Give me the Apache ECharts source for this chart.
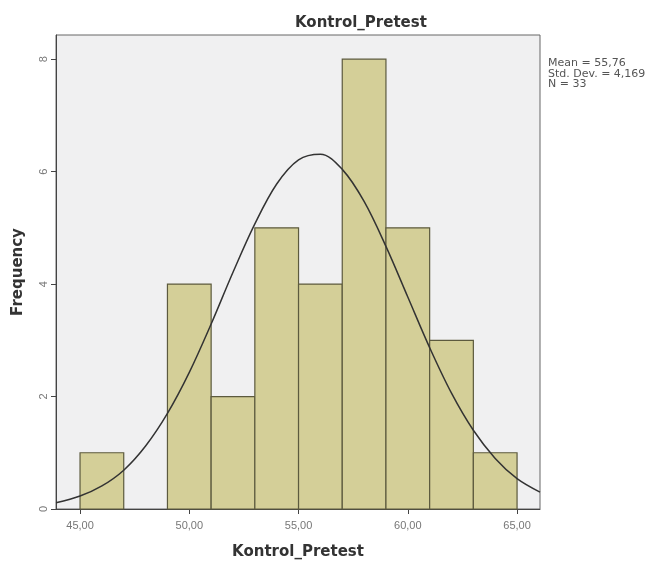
<!DOCTYPE html>
<html>
<head>
<meta charset="utf-8">
<script src="https://cdn.jsdelivr.net/npm/echarts@6/dist/echarts.min.js"></script>
<style>html,body{margin:0;padding:0;background:#fff}#c{width:648px;height:563px}</style>
</head>
<body>
<div id="c"></div>
<script>
var binStarts = [45, 47, 49, 51, 53, 55, 57, 59, 61, 63];
var binCounts = [1, 0, 4, 2, 5, 4, 8, 5, 3, 1];
var binWidth = 2;
var xTicks = [45, 50, 55, 60, 65];
var yTicks = [0, 2, 4, 6, 8];
var curveX = [43.9, 45, 46, 47, 48, 49, 50, 51, 52, 53, 54, 55, 56, 57, 58, 59, 60, 61, 62, 63, 64, 65, 66.05];
var curveY = [0.11, 0.23, 0.41, 0.69, 1.12, 1.70, 2.43, 3.29, 4.21, 5.07, 5.78, 6.21, 6.31, 6.04, 5.47, 4.67, 3.77, 2.87, 2.06, 1.40, 0.90, 0.54, 0.30];
var statLines = ['Mean = 55,76', 'Std. Dev. = 4,169', 'N = 33'];
var titleText = 'Kontrol_Pretest';
var xName = 'Kontrol_Pretest';
var yName = 'Frequency';

var barData = binStarts.map(function (s, i) { return [s, s + binWidth, binCounts[i]]; })
  .filter(function (d) { return d[2] > 0; });
var curveData = curveX.map(function (x, i) { return [x, curveY[i]]; });

var titleFont = 'DejaVu Sans, Verdana, sans-serif';
var chart = echarts.init(document.getElementById('c'));
chart.setOption({
  backgroundColor: '#ffffff',
  animation: false,
  title: {
    text: titleText, left: 290, top: 11,
    textStyle: { fontFamily: titleFont, fontSize: 15, fontWeight: 'bold', color: '#333' }
  },
  grid: {
    left: 56, right: 108, top: 35, bottom: 54, show: true,
    outerBoundsMode: 'none', containLabel: false,
    backgroundColor: '#f0f0f1', borderColor: '#666', borderWidth: 1
  },
  xAxis: {
    type: 'value', min: 43.9, max: 66.05,
    name: xName, nameLocation: 'middle', nameGap: 36,
    nameTextStyle: { fontFamily: titleFont, fontSize: 15, fontWeight: 'bold', color: '#333' },
    axisLine: { show: true, onZero: false, lineStyle: { color: '#444', width: 1 } },
    axisTick: { show: true, customValues: xTicks, length: 5, lineStyle: { color: '#444' } },
    axisLabel: {
      customValues: xTicks, color: '#777', fontFamily: 'Arial, Liberation Sans', fontSize: 11, margin: 11,
      formatter: function (v) { return v.toFixed(2).replace('.', ','); }
    },
    splitLine: { show: false }
  },
  yAxis: {
    type: 'value', min: 0, max: 8.43,
    name: yName, nameLocation: 'middle', nameGap: 30, nameRotate: 90,
    nameTextStyle: { fontFamily: titleFont, fontSize: 15, fontWeight: 'bold', color: '#333' },
    axisLine: { show: true, lineStyle: { color: '#444', width: 1 } },
    axisTick: { show: true, customValues: yTicks, length: 5, lineStyle: { color: '#444' } },
    axisLabel: { customValues: yTicks, rotate: 90, color: '#777', fontFamily: 'Arial, Liberation Sans', fontSize: 11, margin: 7 },
    splitLine: { show: false }
  },
  series: [
    {
      type: 'custom',
      data: barData,
      encode: { x: [0, 1], y: 2 },
      renderItem: function (params, api) {
        var p0 = api.coord([api.value(0), 0]);
        var p1 = api.coord([api.value(1), api.value(2)]);
        return {
          type: 'rect',
          shape: { x: p0[0], y: p1[1], width: p1[0] - p0[0], height: p0[1] - p1[1] },
          style: { fill: '#d4cf98', stroke: '#5c5a3e', lineWidth: 1.2 }
        };
      },
      z: 2
    },
    {
      type: 'line',
      data: curveData,
      smooth: 0.35,
      symbol: 'none',
      lineStyle: { color: '#333', width: 1.5 },
      z: 3
    }
  ],
  graphic: statLines.map(function (t, i) {
    return {
      type: 'text', left: 548, top: 58 + i * 10.5,
      style: { text: t, fill: '#555', font: '11px DejaVu Sans, sans-serif' }
    };
  })
});
</script>
</body>
</html>
